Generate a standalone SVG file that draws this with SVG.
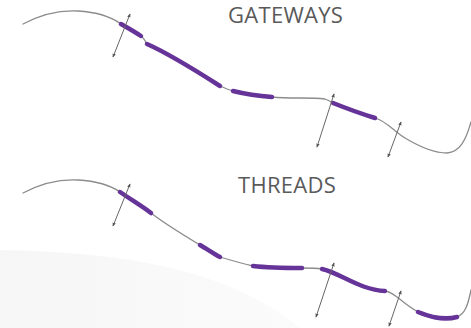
<svg xmlns="http://www.w3.org/2000/svg" width="471" height="328" viewBox="0 0 471 328">
<style>
.thread{fill:none;stroke:#8c8c8c;stroke-width:1.3;stroke-linecap:round}
.seg{fill:none;stroke:#663399;stroke-width:4.5;stroke-linecap:round}
.arr{stroke:#666;stroke-width:1;marker-start:url(#ah);marker-end:url(#ah)}
.lbl{font-family:"Open Sans","Liberation Sans",sans-serif;font-size:22px;letter-spacing:0.3px;fill:#5a5a5a}
</style>
<defs>
<marker id="ah" viewBox="0 0 6 6" refX="5" refY="3" markerWidth="4" markerHeight="4" markerUnits="userSpaceOnUse" orient="auto-start-reverse">
<path d="M0,0.5 L6,3 L0,5.5 Z" fill="#555"/>
</marker>
<linearGradient id="bg" x1="0" y1="0" x2="1" y2="0">
<stop offset="0" stop-color="#f6f6f6"/>
<stop offset="1" stop-color="#fbfbfb"/>
</linearGradient>
</defs>
<rect width="471" height="328" fill="#fff"/>
<path d="M0,250 C100,252 220,262 300,328 L0,328 Z" fill="url(#bg)"/>
<g id="gateways">
<path class="thread" d="M23,24 C40,15 60,10 78,11 C95,12 110,16 121,24 C128,28 135,32 141,36 C144,38 145,41 147,44 C165,52 195,70 220,86 C225,88 229,90 233,91 C245,94 258,96 272,97 C290,99 310,97 325,99 C328,100 330,101 333,103 C348,109 362,114 375,118 C388,122 392,130 405,138 C420,147 435,153 447,153 C460,152 466,140 471,122"/>
<path class="seg" d="M121,24 C128,28 135,32 141,36"/>
<path class="seg" d="M147,44 C165,52 195,70 220,86"/>
<path class="seg" d="M233,91 C245,94 258,96 272,97"/>
<path class="seg" d="M333,103 C348,109 362,114 375,118"/>
<line class="arr" x1="113" y1="57" x2="130" y2="14"/>
<line class="arr" x1="317" y1="147" x2="334" y2="94"/>
<line class="arr" x1="388" y1="157" x2="401" y2="122"/>
<text class="lbl" x="228" y="23">GATEWAYS</text>
</g>
<g id="threads">
<path class="thread" d="M23,193 C40,184 60,179 78,180 C95,181 110,185 120,192 C130,199 142,206 151,213 C165,224 185,236 200,245 C207,249 214,254 220,257 C230,260 240,263 253,266 C270,268 290,268 302,268 C310,268 316,268 322,269 C340,273 360,290 385,291 C395,292 400,302 418,312 C428,316 442,321 457,317 C465,314 468,305 471,290"/>
<path class="seg" d="M120,192 C130,199 142,206 151,213"/>
<path class="seg" d="M200,245 C207,249 214,254 220,257"/>
<path class="seg" d="M253,266 C270,268 290,268 302,268"/>
<path class="seg" d="M322,269 C340,273 360,290 385,291"/>
<path class="seg" d="M418,312 C428,316 442,321 457,317"/>
<line class="arr" x1="113" y1="226" x2="130" y2="184"/>
<line class="arr" x1="316" y1="317" x2="334" y2="263"/>
<line class="arr" x1="389" y1="326" x2="401" y2="291"/>
<text class="lbl" x="238" y="193">THREADS</text>
</g>
</svg>
